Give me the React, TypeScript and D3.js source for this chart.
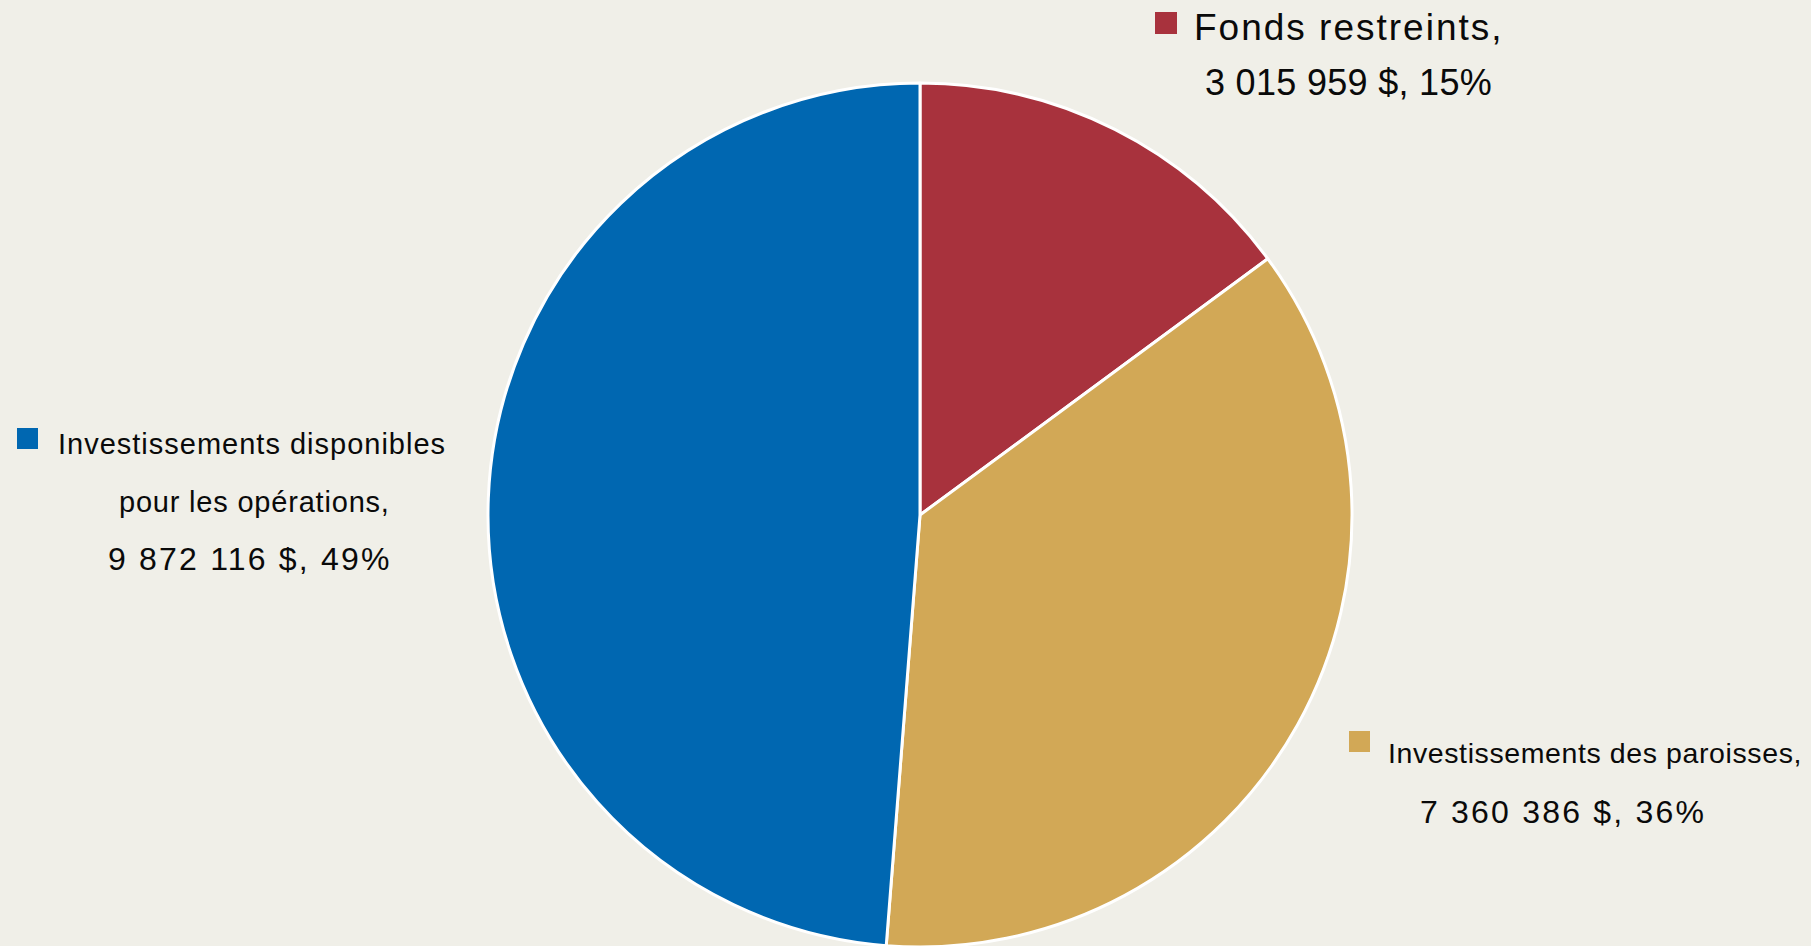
import React, { useEffect, useRef } from "react";
import * as d3 from "d3";

const categories = ["Fonds restreints,", "Investissements des paroisses,", "Investissements disponibles pour les opérations,"];
const values = [3015959, 7360386, 9872116];
const colors = ["#a8323d", "#d2a856", "#0067b1"];

const W = 1811;
const H = 946;

function fmtValue(v: number, total: number) {
  const num = d3.format(",")(v).replace(/,/g, " ");
  const pct = Math.round((v / total) * 100);
  return `${num} $, ${pct}%`;
}

export default function App() {
  const ref = useRef<SVGSVGElement | null>(null);

  useEffect(() => {
    document.body.style.margin = "0";
    const svg = d3.select(ref.current);
    svg.selectAll("*").remove();
    svg.append("rect").attr("width", W).attr("height", H).attr("fill", "#f0efe8");

    const cx = 920, cy = 515, r = 432;
    const total = d3.sum(values);
    const pie = d3.pie<number>().sort(null).startAngle(0).endAngle(2 * Math.PI);
    const arc = d3.arc<d3.PieArcDatum<number>>().innerRadius(0).outerRadius(r);
    const g = svg.append("g").attr("transform", `translate(${cx},${cy})`);
    g.selectAll("path")
      .data(pie(values))
      .join("path")
      .attr("d", arc as any)
      .attr("fill", (_d, i) => colors[i])
      .attr("stroke", "#ffffff")
      .attr("stroke-width", 3)
      .attr("stroke-linejoin", "round");

    const font = "'Liberation Sans', Arial, sans-serif";

    type Line = { text: string; x: number; y: number; size: number; ls: number };
    const labelDefs: { sq: [number, number, number]; lines: Line[] }[] = [
      {
        sq: [1155, 12, 22],
        lines: [
          { text: categories[0], x: 1194, y: 40, size: 37, ls: 2 },
          { text: fmtValue(values[0], total), x: 1205, y: 95, size: 36, ls: 0.3 },
        ],
      },
      {
        sq: [1349, 731, 21],
        lines: [
          { text: categories[1], x: 1388, y: 763, size: 28.5, ls: 0.6 },
          { text: fmtValue(values[1], total), x: 1420, y: 823, size: 32, ls: 2.2 },
        ],
      },
      {
        sq: [17, 428, 21],
        lines: [
          { text: "Investissements disponibles", x: 58, y: 454, size: 29, ls: 1 },
          { text: "pour les opérations,", x: 119, y: 512, size: 29, ls: 0.8 },
          { text: fmtValue(values[2], total), x: 108, y: 570, size: 32, ls: 2.2 },
        ],
      },
    ];

    labelDefs.forEach((lab, i) => {
      svg.append("rect")
        .attr("x", lab.sq[0]).attr("y", lab.sq[1])
        .attr("width", lab.sq[2]).attr("height", lab.sq[2])
        .attr("fill", colors[i]);
      lab.lines.forEach((ln) => {
        svg.append("text")
          .attr("x", ln.x).attr("y", ln.y)
          .attr("font-family", font)
          .attr("font-size", ln.size)
          .attr("letter-spacing", ln.ls)
          .attr("fill", "#0a0a0a")
          .text(ln.text);
      });
    });
  }, []);

  return (
    <svg
      ref={ref}
      width={W}
      height={H}
      style={{ display: "block", position: "absolute", left: 0, top: 0 }}
    />
  );
}
